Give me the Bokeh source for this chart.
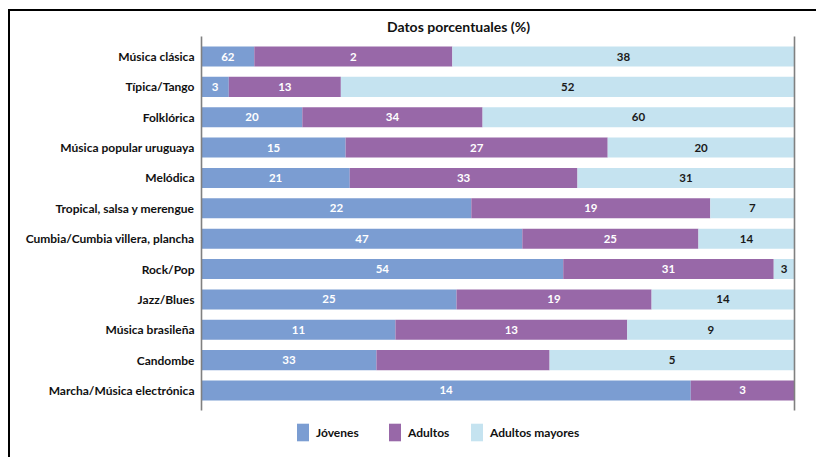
from bokeh.plotting import figure
from bokeh.models import (ColumnDataSource, FixedTicker, Legend, LegendItem,
                          Label, LabelSet, Range1d)
from bokeh.embed import file_html
from bokeh.resources import INLINE
from bokeh.core.properties import value

categories = ["Música clásica", "Típica/Tango", "Folklórica", "Música popular uruguaya",
              "Melódica", "Tropical, salsa y merengue", "Cumbia/Cumbia villera, plancha",
              "Rock/Pop", "Jazz/Blues", "Música brasileña", "Candombe",
              "Marcha/Música electrónica"]
series = ["Jóvenes", "Adultos", "Adultos mayores"]
# segment widths (share of bar, %) as drawn
jovenes = [8.9, 4.6, 17.0, 24.3, 25.0, 45.5, 54.1, 61.0, 43.0, 32.7, 29.5, 82.5]
adultos = [33.4, 18.9, 30.4, 44.2, 38.4, 40.3, 29.7, 35.5, 32.9, 39.1, 29.2, 17.5]
mayores = [57.7, 76.5, 52.6, 31.5, 36.6, 14.2, 16.2, 3.5, 24.1, 28.2, 41.3, 0.0]
# labels printed on the segments
jovenes_lbl = ["62", "3", "20", "15", "21", "22", "47", "54", "25", "11", "33", "14"]
adultos_lbl = ["2", "13", "34", "27", "33", "19", "25", "31", "19", "13", "", "3"]
mayores_lbl = ["38", "52", "60", "20", "31", "7", "14", "3", "14", "9", "5", ""]
title_text = "Datos porcentuales (%)"

colors = ["#7B9DD2", "#9868A8", "#C5E3F0"]
label_colors = ["white", "white", "#1a1a1a"]
FONT = "Lato"
AXIS_COLOR = "#808080"

rows = list(range(len(categories)))
n = len(categories)

# layout (pixels): frame spans canvas height; rows pitch ~30.4 px
PITCH = 30.36
TOP_PX = 45      # frame top -> centre of first row
BOTTOM_PX = 69   # centre of last row -> frame bottom
PAD = 0.66       # axis line extends this far beyond first/last row centre
y_top = -TOP_PX / PITCH
y_bottom = (n - 1) + BOTTOM_PX / PITCH

p = figure(width=808, height=448, output_backend="svg", toolbar_location=None,
           x_range=Range1d(0, 100), y_range=Range1d(y_bottom, y_top),
           x_axis_type=None, min_border_left=191, min_border_right=24,
           min_border_top=0, min_border_bottom=0)
p.styles = {"border-left": "2px solid #000", "border-top": "2px solid #000",
            "margin-left": "8px", "margin-top": "9px"}
p.outline_line_color = None
p.grid.visible = False

# vertical frame lines at 0 and 100
p.segment(x0=[0, 100], x1=[0, 100], y0=[-PAD, -PAD], y1=[n - 1 + PAD, n - 1 + PAD],
          line_color=AXIS_COLOR, line_width=1.6, level="overlay")

vals = [jovenes, adultos, mayores]
lbls = [jovenes_lbl, adultos_lbl, mayores_lbl]
lefts = [0.0] * len(rows)
renderers = []
for v, lb, c, lc in zip(vals, lbls, colors, label_colors):
    rights = [l + w for l, w in zip(lefts, v)]
    src = ColumnDataSource(dict(y=rows, left=lefts, right=rights,
                                mid=[(l + r) / 2 for l, r in zip(lefts, rights)], text=lb))
    r = p.hbar(y="y", left="left", right="right", height=0.66, source=src,
               fill_color=c, line_color=None)
    renderers.append(r)
    p.add_layout(LabelSet(x="mid", y="y", text="text", source=src, text_align="center",
                          text_baseline="middle", text_color=lc, text_font=value(FONT),
                          text_font_size="11.5px", text_font_style="bold"))
    lefts = rights

ax = p.yaxis[0]
ax.ticker = FixedTicker(ticks=rows)
ax.major_label_overrides = {i: c for i, c in enumerate(categories)}
ax.major_tick_line_color = None
ax.minor_tick_line_color = None
ax.major_tick_out = 0
ax.major_tick_in = 0
ax.major_label_standoff = 7
ax.axis_line_color = None
ax.major_label_text_font = FONT
ax.major_label_text_font_size = "12px"
ax.major_label_text_font_style = "bold"
ax.major_label_text_color = "#111111"

p.add_layout(Label(x=257, y=433, x_units="screen", y_units="screen", text=title_text,
                   text_align="center", text_baseline="middle", text_font=FONT,
                   text_font_size="14px", text_font_style="bold", text_color="#111111"))

# one legend entry per box so each sits where the reference has it
legend_x = [94, 186, 268]
for s, r, lx in zip(series, renderers, legend_x):
    lg = Legend(items=[LegendItem(label=s, renderers=[r])],
                orientation="horizontal", location=(lx, 16), glyph_width=15, glyph_height=22,
                label_standoff=6, spacing=0, padding=0, margin=0, border_line_color=None,
                background_fill_alpha=0, label_text_font=FONT, label_text_font_size="12px",
                label_text_font_style="bold", label_text_color="#111111")
    p.add_layout(lg, "center")

open("out.html", "w").write(file_html(p, INLINE))
